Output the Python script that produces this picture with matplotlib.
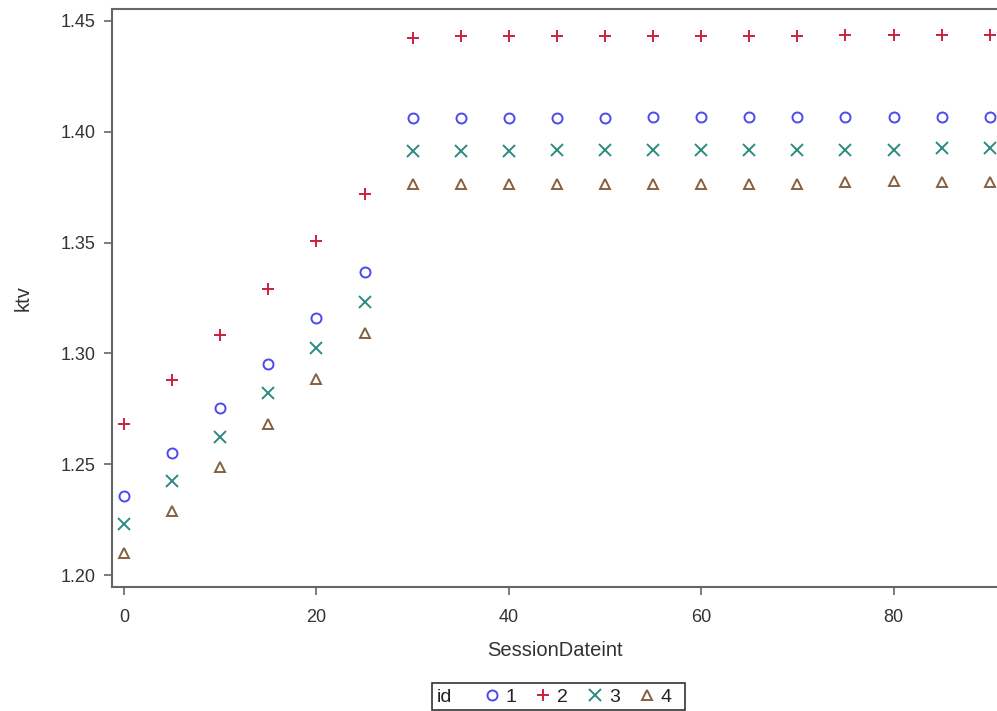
import matplotlib
matplotlib.use('Agg')
import matplotlib.pyplot as plt
from matplotlib.patches import Rectangle

plt.rcParams['font.family'] = ['Liberation Sans', 'DejaVu Sans']

# Session dates (x) and ktv per id
session = [0, 5, 10, 15, 20, 25, 30, 35, 40, 45, 50, 55, 60, 65, 70, 75, 80, 85, 90]
ktv_1 = [1.2357, 1.2550, 1.2754, 1.2952, 1.3160, 1.3367, 1.4062, 1.4062, 1.4062, 1.4062,
         1.4062, 1.4067, 1.4067, 1.4067, 1.4067, 1.4067, 1.4067, 1.4067, 1.4067]
ktv_2 = [1.2680, 1.2880, 1.3083, 1.3292, 1.3508, 1.3720, 1.4425, 1.4430, 1.4430, 1.4430,
         1.4430, 1.4430, 1.4430, 1.4430, 1.4430, 1.4435, 1.4435, 1.4435, 1.4435]
ktv_3 = [1.2230, 1.2424, 1.2623, 1.2821, 1.3024, 1.3232, 1.3913, 1.3913, 1.3913, 1.3918,
         1.3918, 1.3918, 1.3918, 1.3918, 1.3918, 1.3918, 1.3918, 1.3925, 1.3925]
ktv_4 = [1.2099, 1.2289, 1.2487, 1.2681, 1.2885, 1.3092, 1.3764, 1.3764, 1.3764, 1.3764,
         1.3764, 1.3764, 1.3764, 1.3764, 1.3764, 1.3773, 1.3778, 1.3773, 1.3773]

ids = ['1', '2', '3', '4']
series = [ktv_1, ktv_2, ktv_3, ktv_4]
markers = ['o', '+', 'x', '^']
colors = ['#4a4af0', '#cc2040', '#2f8a80', '#866040']

W, H = 997, 711
fig = plt.figure(figsize=(W / 100, H / 100), dpi=100)
ax = fig.add_axes([112 / W, 1 - 587 / H, 1 - 112 / W, 578 / H])

for vals, m, c, lab in zip(series, markers, colors, ids):
    if m in ('o', '^'):
        ax.plot(session, vals, linestyle='none', marker=m, markersize=7.2,
                markerfacecolor='none', markeredgecolor=c, markeredgewidth=1.4, label=lab)
    else:
        ax.plot(session, vals, linestyle='none', marker=m, markersize=8,
                color=c, markeredgewidth=1.4, label=lab)

ax.set_xlim(-1.25, 90.75)
ax.set_ylim(1.1946, 1.4554)
ax.set_xticks([0, 20, 40, 60, 80])
ax.set_yticks([1.20, 1.25, 1.30, 1.35, 1.40, 1.45])
ax.yaxis.set_major_formatter(matplotlib.ticker.FormatStrFormatter('%.2f'))

for s in ['left', 'top', 'bottom']:
    ax.spines[s].set_color('#666666')
    ax.spines[s].set_linewidth(1.5)
ax.spines['right'].set_visible(False)
ax.tick_params(direction='out', length=6, width=1.2, color='#666666',
               labelsize=13, labelcolor='#333333', pad=6)
ax.tick_params(axis='x', pad=10)

ax.set_xlabel('SessionDateint', fontsize=14.5, color='#333333', labelpad=11)
ax.set_ylabel('ktv', fontsize=14.5, color='#333333', labelpad=20)

# Legend: entries without frame, plus an inline "id" label and a box around both
h, l = ax.get_legend_handles_labels()
leg = fig.legend(h, l, loc='center left', bbox_to_anchor=(482 / W, 1 - 697 / H),
                 ncol=4, frameon=False, fontsize=14, borderpad=0, borderaxespad=0,
                 handlelength=1.0, handletextpad=0.2, columnspacing=0.9)
for t in leg.get_texts():
    t.set_color('#222222')
fig.text(437 / W, 1 - 697 / H, 'id', fontsize=14, color='#222222',
         ha='left', va='center')
fig.patches.append(Rectangle((432 / W, 1 - 710 / H), 253 / W, 27 / H,
                             transform=fig.transFigure, fill=False,
                             edgecolor='#333333', linewidth=1.2))

plt.savefig('out.png', dpi=100)
